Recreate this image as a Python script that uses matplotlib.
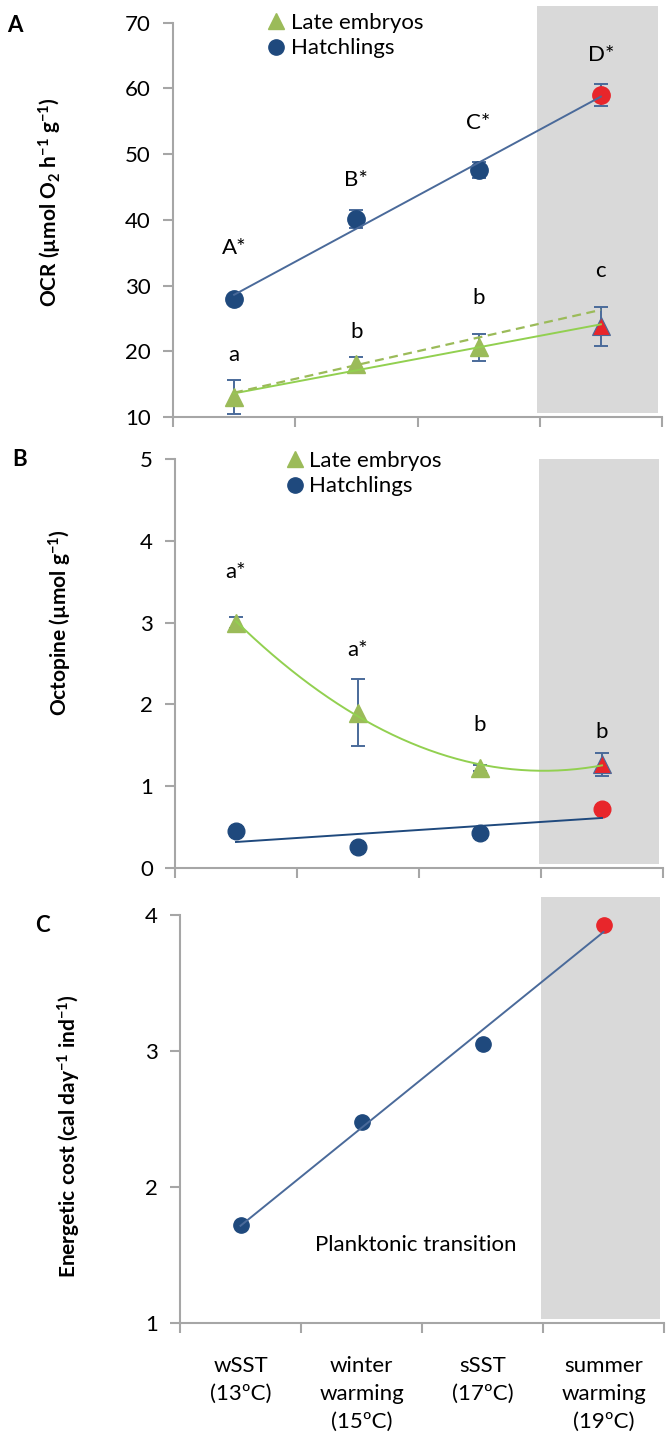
import numpy as np
import matplotlib
matplotlib.use("Agg")
import matplotlib.pyplot as plt
from matplotlib.patches import Rectangle
from matplotlib.lines import Line2D

plt.rcParams['font.family'] = ['Lato', 'DejaVu Sans']
plt.rcParams['mathtext.default'] = 'regular'

# categories (temperature treatments)
groups = ["wSST\n(13ºC)", "winter\nwarming\n(15ºC)", "sSST\n(17ºC)", "summer\nwarming\n(19ºC)"]
xpos = np.arange(1, 5)

# A - oxygen consumption rate
ocr_hatch = [28.0, 40.1, 47.6, 59.0]
ocr_hatch_err = [0.5, 1.4, 1.2, 1.6]
ocr_emb = [13.0, 18.0, 20.6, 23.8]
ocr_emb_err = [2.6, 1.2, 2.1, 3.0]
ocr_emb_proj = [13.7, 17.9, 22.1, 26.3]
ocr_hatch_sig = ["A*", "B*", "C*", "D*"]
ocr_emb_sig = ["a", "b", "b", "c"]

# B - octopine
oct_emb = [3.0, 1.9, 1.22, 1.27]
oct_emb_err = [0.07, 0.41, 0.04, 0.14]
oct_hatch = [0.45, 0.26, 0.43, 0.72]
oct_emb_sig = ["a*", "a*", "b", "b"]

# C - energetic cost (hatchlings)
cost_hatch = [1.72, 2.48, 3.05, 3.93]

NAVY = '#1f497d'
GREEN = '#9bbb59'
LGREEN = '#92d050'
RED = '#e8262b'
LINEBLUE = '#4a6a9a'
AXC = '#a6a6a6'
GRAY = '#d9d9d9'
FS = 16

W, H = 672, 1446
fig = plt.figure(figsize=(W / 100, H / 100), dpi=100)


def make_axes(l, r, t, b):
    return fig.add_axes([l / W, 1 - b / H, (r - l) / W, (b - t) / H])


def style(ax, lo, hi, step, gray_top):
    ax.set_xlim(0.5, 4.5)
    ax.set_ylim(lo, hi)
    ax.set_yticks(np.arange(lo, hi + step / 2, step))
    ax.set_xticks(np.arange(0.5, 4.6, 1))
    ax.set_xticklabels([])
    for s in ['top', 'right']:
        ax.spines[s].set_visible(False)
    for s in ['left', 'bottom']:
        ax.spines[s].set_color(AXC)
        ax.spines[s].set_linewidth(1.5)
    ax.tick_params(axis='both', which='major', color=AXC, width=1.5,
                   length=7, labelsize=FS, pad=9)
    ax.patch.set_visible(False)
    ax.add_patch(Rectangle((3.48, 0.01), 0.99, gray_top - 0.01,
                           transform=ax.get_xaxis_transform(),
                           facecolor=GRAY, edgecolor='none', zorder=0,
                           clip_on=False))


def legend(ax, x, y):
    h = [Line2D([], [], marker='^', color=GREEN, ls='none', ms=11),
         Line2D([], [], marker='o', color=NAVY, ls='none', ms=11)]
    ax.legend(h, ["Late embryos", "Hatchlings"], loc='upper left',
              bbox_to_anchor=(x, y), frameon=False, fontsize=FS,
              handlelength=0.7, handletextpad=0.3, labelspacing=0.25,
              borderpad=0, borderaxespad=0)


def trend(ax, vals, deg, color, **kw):
    xs = np.linspace(1, 4, 200)
    ax.plot(xs, np.polyval(np.polyfit(xpos, vals, deg), xs), color=color,
            lw=1.4, zorder=4, **kw)


# ---- panel A ----
axA = make_axes(173, 662, 22.7, 417)
style(axA, 10, 70, 10, 1.042)
axA.errorbar(xpos, ocr_hatch, yerr=ocr_hatch_err, fmt='none', ecolor=LINEBLUE,
             elinewidth=1.4, capsize=5, capthick=1.4, zorder=2)
axA.errorbar(xpos, ocr_emb, yerr=ocr_emb_err, fmt='none', ecolor=LINEBLUE,
             elinewidth=1.4, capsize=5, capthick=1.4, zorder=2)
axA.plot(xpos[:3], ocr_hatch[:3], 'o', color=NAVY, ms=12.5, zorder=3)
axA.plot(xpos[3:], ocr_hatch[3:], 'o', color=RED, ms=12.5, zorder=3)
axA.plot(xpos[:3], ocr_emb[:3], '^', color=GREEN, ms=12.5, zorder=3)
axA.plot(xpos[3:], ocr_emb[3:], '^', color=RED, ms=12.5, zorder=3,
         mec=LINEBLUE, mew=0.8)
trend(axA, ocr_hatch, 1, LINEBLUE)
trend(axA, ocr_emb, 1, LGREEN)
axA.plot(xpos, ocr_emb_proj, color=GREEN, lw=1.6, ls=(0, (4, 2.5)), zorder=4)
for x, t, y in zip(xpos, ocr_hatch_sig, [35.7, 46.1, 54.7, 65.1]):
    axA.text(x, y, t, ha='center', va='center', fontsize=FS)
for x, t, y in zip(xpos, ocr_emb_sig, [19.4, 22.9, 28.1, 32.2]):
    axA.text(x, y, t, ha='center', va='center', fontsize=FS)
legend(axA, 0.195, 1.025)

# ---- panel B ----
axB = make_axes(175, 663, 459, 868)
style(axB, 0, 5, 1, 1.0)
axB.errorbar(xpos, oct_emb, yerr=oct_emb_err, fmt='none', ecolor=LINEBLUE,
             elinewidth=1.4, capsize=5, capthick=1.4, zorder=2)
axB.plot(xpos[:3], oct_emb[:3], '^', color=GREEN, ms=12.5, zorder=3)
axB.plot(xpos[3:], oct_emb[3:], '^', color=RED, ms=12.5, zorder=3,
         mec=LINEBLUE, mew=0.8)
axB.plot(xpos[:3], oct_hatch[:3], 'o', color=NAVY, ms=12, zorder=3)
axB.plot(xpos[3:], oct_hatch[3:], 'o', color=RED, ms=12, zorder=3)
trend(axB, oct_emb, 2, LGREEN)
trend(axB, oct_hatch, 1, NAVY)
for x, t, y in zip(xpos, oct_emb_sig, [3.62, 2.66, 1.75, 1.66]):
    axB.text(x, y, t, ha='center', va='center', fontsize=FS)
legend(axB, 0.23, 1.02)

# ---- panel C ----
axC = make_axes(180, 664, 915, 1323)
style(axC, 1, 4, 1, 1.044)
axC.plot(xpos[:3], cost_hatch[:3], 'o', color=NAVY, ms=11, zorder=3)
axC.plot(xpos[3:], cost_hatch[3:], 'o', color=RED, ms=11, zorder=3)
trend(axC, cost_hatch, 1, LINEBLUE)
axC.text(2.45, 1.57, "Planktonic transition", ha='center', va='center', fontsize=FS)
axC.set_xticks(xpos, minor=True)
axC.set_xticklabels(groups, minor=True, fontsize=FS, linespacing=1.5, va='top')
axC.tick_params(axis='x', which='minor', length=0, pad=24)

# axis titles and panel letters
fig.text(50 / W, 1 - 202 / H, "OCR (µmol O$_2$ h$^{-1}$ g$^{-1}$)", rotation=90,
         ha='center', va='center', fontsize=15, fontweight='bold')
fig.text(60 / W, 1 - 623 / H, "Octopine (µmol g$^{-1}$)", rotation=90,
         ha='center', va='center', fontsize=15, fontweight='bold')
fig.text(69 / W, 1 - 1136 / H, "Energetic cost (cal day$^{-1}$ ind$^{-1}$)", rotation=90,
         ha='center', va='center', fontsize=15, fontweight='bold')
for t, x, y in [("A", 15, 25), ("B", 20, 460), ("C", 42, 926)]:
    fig.text(x / W, 1 - y / H, t, ha='center', va='center', fontsize=16,
             fontweight='bold')

fig.savefig("out.png", dpi=100)
